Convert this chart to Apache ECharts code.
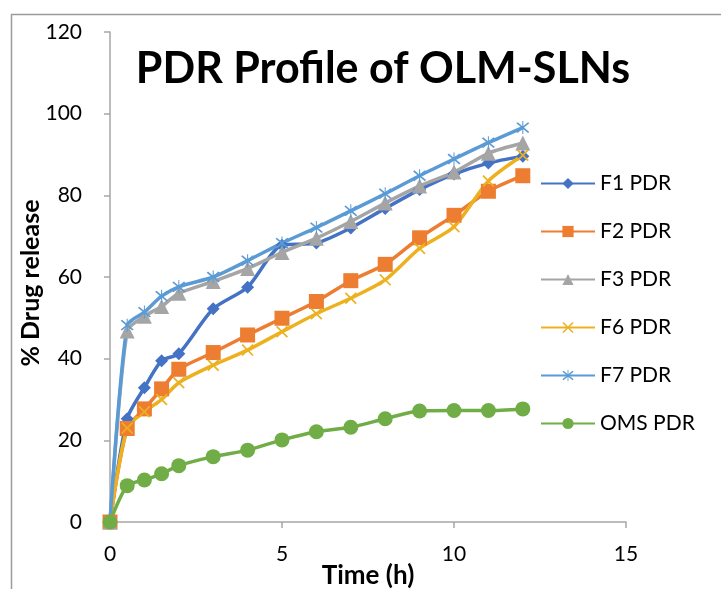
<!DOCTYPE html>
<html>
<head>
<meta charset="utf-8">
<script src="https://cdn.jsdelivr.net/npm/echarts@6/dist/echarts.min.js"></script>
<style>
html,body{margin:0;padding:0;background:#fff;}
#c{width:721px;height:589px;}
</style>
</head>
<body>
<div id="c"></div>
<script>
var timeH = [0, 0.5, 1, 1.5, 2, 3, 4, 5, 6, 7, 8, 9, 10, 11, 12];
var f1 = [0, 25.3, 32.9, 39.5, 41.2, 52.2, 57.5, 67.8, 68.3, 72.0, 76.8, 81.4, 85.2, 87.9, 89.6];
var f2 = [0, 22.9, 27.7, 32.6, 37.4, 41.5, 45.8, 49.9, 54.0, 59.1, 63.1, 69.6, 75.1, 81.0, 84.8];
var f3 = [0, 46.8, 50.4, 52.8, 56.0, 58.9, 62.1, 66.0, 69.5, 73.6, 78.1, 82.3, 85.7, 90.3, 92.8];
var f6 = [0, 23.0, 27.0, 30.0, 34.1, 38.4, 42.1, 46.6, 51.0, 54.8, 59.3, 67.0, 72.3, 83.5, 89.8];
var f7 = [0, 48.2, 51.4, 55.3, 57.6, 60.0, 64.0, 68.3, 72.1, 76.2, 80.4, 84.8, 88.9, 92.9, 96.6];
var oms = [0, 8.9, 10.3, 11.8, 13.8, 16.0, 17.6, 20.1, 22.1, 23.2, 25.3, 27.2, 27.3, 27.3, 27.7];
var seriesNames = ['F1 PDR', 'F2 PDR', 'F3 PDR', 'F6 PDR', 'F7 PDR', 'OMS PDR'];
var yTicks = [0, 20, 40, 60, 80, 100, 120];
var xTicks = [0, 5, 10, 15];

var FONT = 'Lato';
var crossPath = 'path://M2,0 L10,8 L18,0 L20,2 L12,10 L20,18 L18,20 L10,12 L2,20 L0,18 L8,10 L0,2 Z';
var starPath = 'path://M2,0 L10,8 L18,0 L20,2 L12,10 L20,18 L18,20 L10,12 L2,20 L0,18 L8,10 L0,2 Z M9.2,-2 L10.8,-2 L10.8,22 L9.2,22 Z';

function pairs(ys) { return timeH.map(function (t, i) { return [t, ys[i]]; }); }

function mk(name, ys, color, symbol, size) {
  return {
    name: name, type: 'line', data: pairs(ys), smooth: 0.25,
    symbol: symbol, symbolSize: size, showSymbol: true,
    lineStyle: { color: color, width: 3.5 },
    itemStyle: { color: color, borderWidth: 0 },
    emphasis: { disabled: true }
  };
}

var chart = echarts.init(document.getElementById('c'), null, { renderer: 'canvas' });
chart.setOption({
  animation: false,
  backgroundColor: '#fff',
  title: {
    text: 'PDR Profile of OLM-SLNs', left: 383, top: 48, textAlign: 'center', padding: 0,
    textStyle: { fontFamily: FONT, fontWeight: 'bold', fontSize: 43, color: '#000' }
  },
  graphic: [{
    type: 'polyline', shape: { points: [[11.5, 600], [11.5, 14.5], [730, 14.5]] },
    style: { stroke: '#9c9c9c', lineWidth: 1.5, fill: null }, silent: true
  }],
  legend: {
    orient: 'vertical', left: 540, top: 173, padding: 0, itemWidth: 54, itemHeight: 14, itemGap: 27,
    data: seriesNames,
    textStyle: { fontFamily: FONT, fontSize: 21, color: '#000' }
  },
  grid: { left: 110, right: 95, top: 32, bottom: 67, containLabel: false, outerBoundsMode: 'none' },
  xAxis: {
    type: 'value', min: xTicks[0], max: xTicks[xTicks.length - 1], interval: 5,
    name: 'Time (h)', nameLocation: 'middle', nameGap: 41, nameMoveOverlap: false,
    nameTextStyle: { fontFamily: FONT, fontWeight: 'bold', fontSize: 26, color: '#000' },
    axisLine: { show: true, onZero: false, lineStyle: { color: '#a6a6a6', width: 1.5 } },
    axisTick: { show: true, inside: false, length: 6, lineStyle: { color: '#a6a6a6', width: 1.5 } },
    axisLabel: { margin: 22, fontFamily: FONT, fontSize: 21, color: '#000' },
    splitLine: { show: false }
  },
  yAxis: {
    type: 'value', min: yTicks[0], max: yTicks[yTicks.length - 1], interval: 20,
    name: '% Drug release', nameLocation: 'middle', nameGap: 67, nameMoveOverlap: false,
    nameTextStyle: { fontFamily: FONT, fontWeight: 'bold', fontSize: 25, color: '#000', padding: [0, 12, 0, 0] },
    axisLine: { show: true, lineStyle: { color: '#a6a6a6', width: 1.5 } },
    axisTick: { show: true, inside: false, length: 6, lineStyle: { color: '#a6a6a6', width: 1.5 } },
    axisLabel: { margin: 28, fontFamily: FONT, fontSize: 21, color: '#000' },
    splitLine: { show: false }
  },
  series: [
    mk(seriesNames[0], f1, '#4472C4', 'diamond', 13),
    mk(seriesNames[1], f2, '#ED7D31', 'rect', 15),
    mk(seriesNames[2], f3, '#A5A5A5', 'triangle', 15),
    mk(seriesNames[3], f6, '#EDB120', crossPath, 12),
    mk(seriesNames[4], f7, '#5B9BD5', starPath, 13),
    mk(seriesNames[5], oms, '#70AD47', 'circle', 15)
  ]
});
</script>
</body>
</html>
